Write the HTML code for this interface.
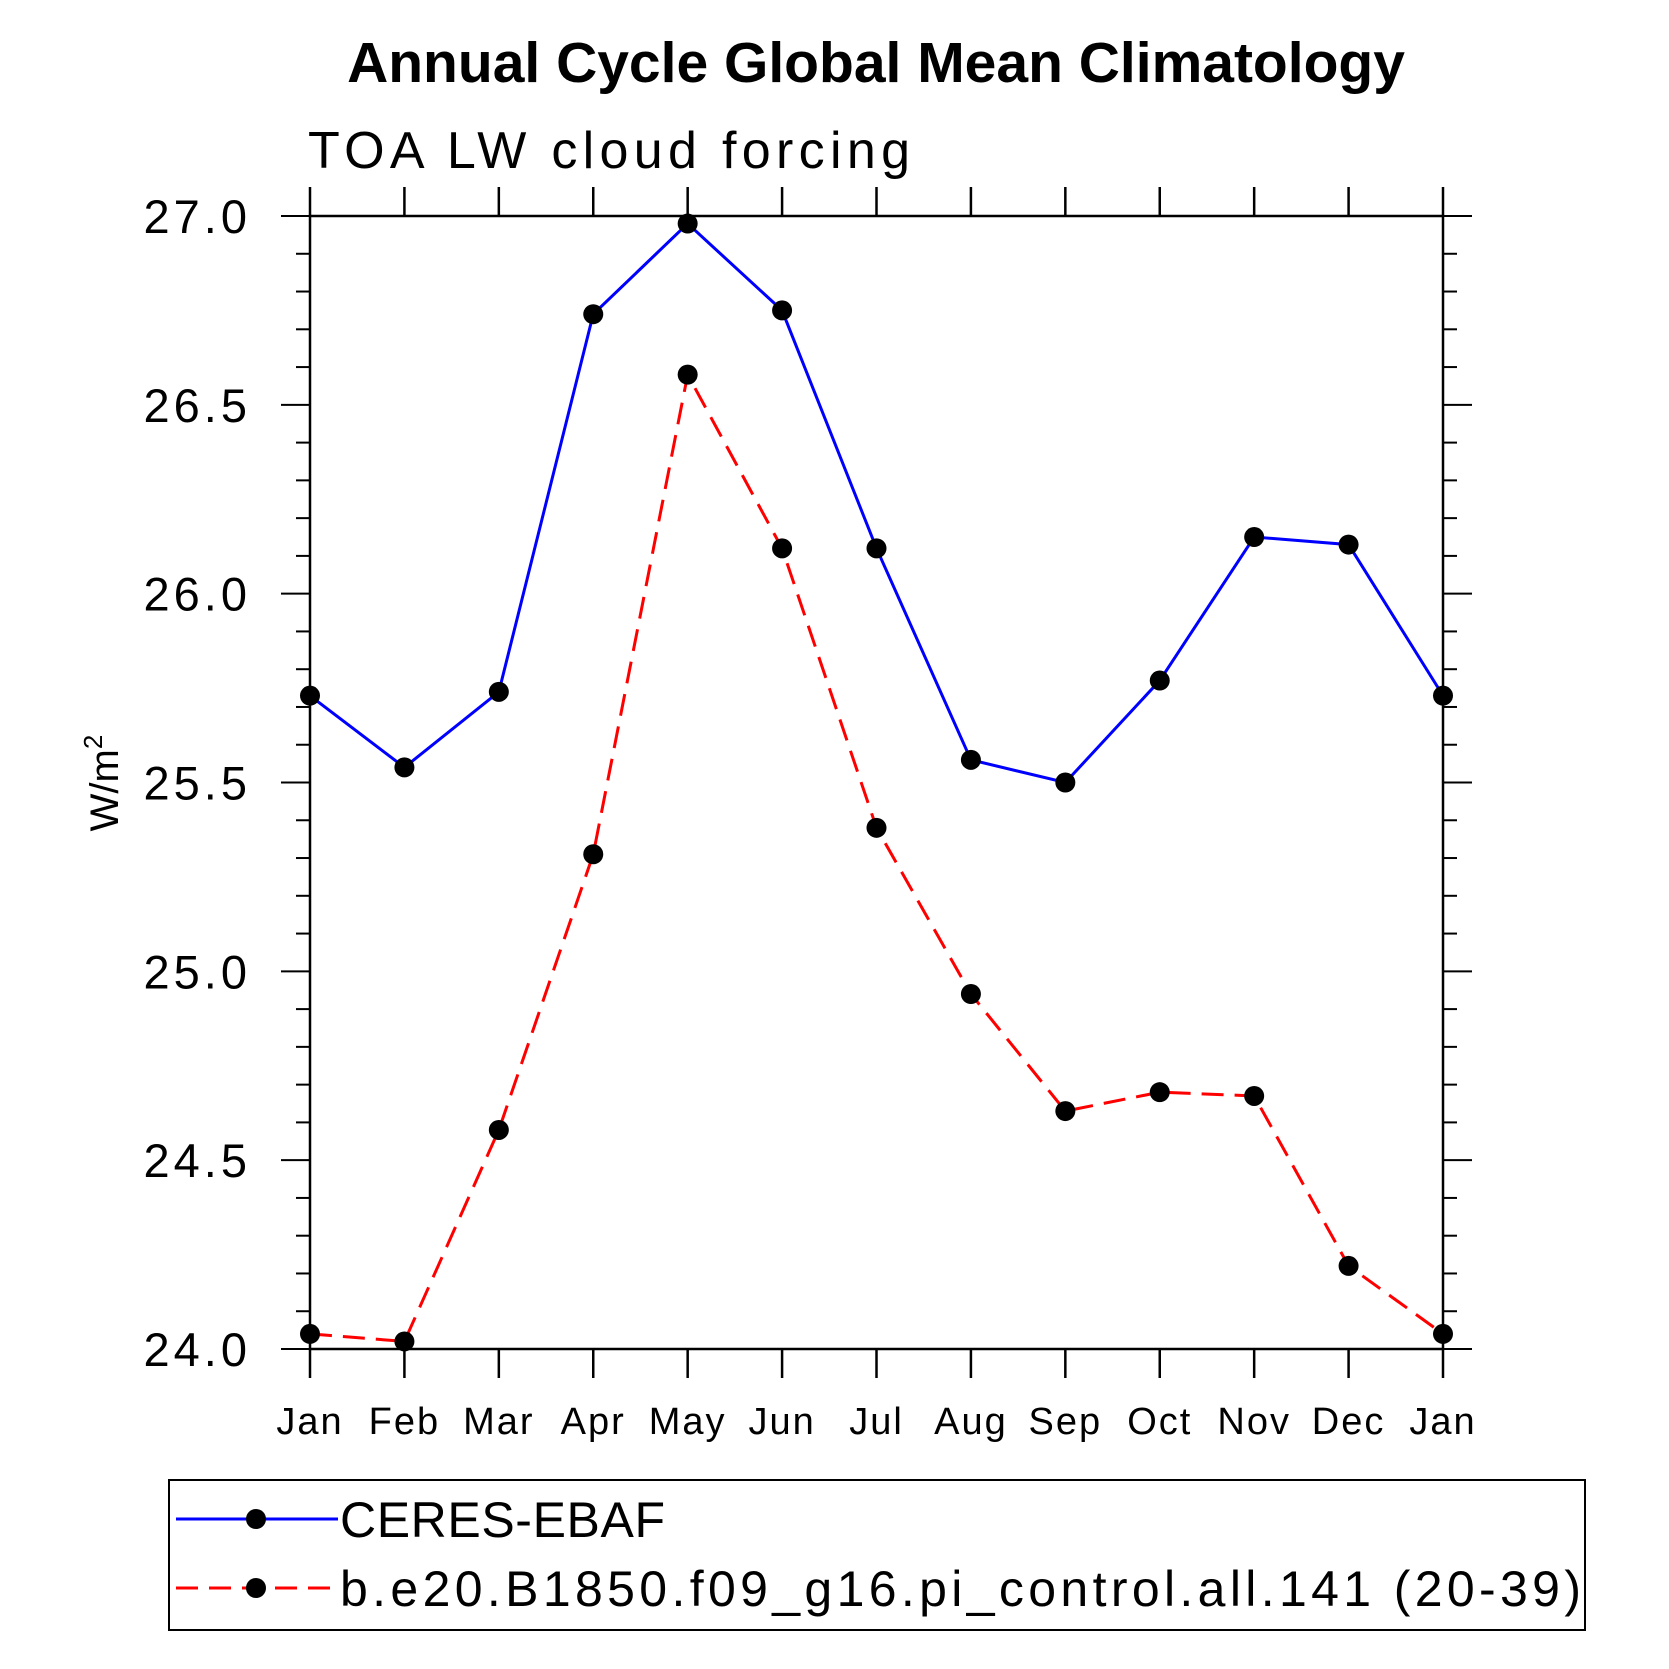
<!DOCTYPE html>
<html><head><meta charset="utf-8"><style>
html,body{margin:0;padding:0;background:#fff;}
svg{display:block;font-family:"Liberation Sans",sans-serif;}
</style></head><body>
<svg id="chart" width="1669" height="1669" viewBox="0 0 1669 1669">
<text x="876" y="82" text-anchor="middle" font-size="57" font-weight="bold">Annual Cycle Global Mean Climatology</text>
<text x="308" y="168" font-size="52" textLength="602" lengthAdjust="spacing">TOA LW cloud forcing</text>
<g id="axes"></g>
<g id="series"></g>
<text transform="translate(118,783) rotate(-90)" text-anchor="middle" font-size="40">W/m<tspan dy="-16" font-size="26">2</tspan></text>
<rect x="169" y="1480" width="1416" height="150" fill="none" stroke="#000" stroke-width="2"/>
<g id="legend"></g>
</svg>
<script>
const months=["Jan","Feb","Mar","Apr","May","Jun","Jul","Aug","Sep","Oct","Nov","Dec","Jan"];
const ceres=[25.73,25.54,25.74,26.74,26.98,26.75,26.12,25.56,25.50,25.77,26.15,26.13,25.73];
const model=[24.04,24.02,24.58,25.31,26.58,26.12,25.38,24.94,24.63,24.68,24.67,24.22,24.04];
const yTicks=[24.0,24.5,25.0,25.5,26.0,26.5,27.0];
const seriesNames=["CERES-EBAF","b.e20.B1850.f09_g16.pi_control.all.141 (20-39)"];
const NS="http://www.w3.org/2000/svg";
const L=310,R=1443,T=216,B=1349,yMin=24,yMax=27;
const xs=i=>L+(R-L)*i/(months.length-1);
const ys=v=>B-(v-yMin)/(yMax-yMin)*(B-T);
function mk(tag,attrs,parent){const e=document.createElementNS(NS,tag);for(const k in attrs)e.setAttribute(k,attrs[k]);parent.appendChild(e);return e;}
const ax=document.getElementById('axes');
const frame=mk('rect',{x:L,y:T,width:R-L,height:B-T,fill:'none',stroke:'#000','stroke-width':2.5},ax);


months.forEach((m,i)=>{
  const x=xs(i);
  mk('line',{x1:x,y1:B,x2:x,y2:B+29,stroke:'#000','stroke-width':2.5},ax);
  mk('line',{x1:x,y1:T,x2:x,y2:T-29,stroke:'#000','stroke-width':2.5},ax);
  const t=mk('text',{x:x,y:1434,'text-anchor':'middle','font-size':38,'letter-spacing':'2'},ax);
  t.textContent=m;
  
  
});
for(let k=0;k<=30;k++){
  const v=yMin+k*0.1,y=ys(v),major=k%5===0,len=major?29:14;
  mk('line',{x1:L,y1:y,x2:L-len,y2:y,stroke:'#000','stroke-width':2},ax);
  mk('line',{x1:R,y1:y,x2:R+len,y2:y,stroke:'#000','stroke-width':2},ax);
}
yTicks.forEach(v=>{
  const t=mk('text',{x:251,y:ys(v)+17,'text-anchor':'end','font-size':47,'letter-spacing':'4'},ax);
  t.textContent=v.toFixed(1);
  
  
});
const sg=document.getElementById('series');
function drawSeries(vals,color,dash,name){
  const g=mk('g',{},sg);
  
  
  const p=mk('polyline',{points:vals.map((v,i)=>xs(i)+','+ys(v)).join(' '),fill:'none',stroke:color,'stroke-width':3},g);
  if(dash)p.setAttribute('stroke-dasharray',dash);
  vals.forEach((v,i)=>{
    const c=mk('circle',{cx:xs(i),cy:ys(v),r:10,fill:'#000'},g);
    
    
  });
}
drawSeries(ceres,'#0000ff',null,'series-ceres-ebaf');
drawSeries(model,'#ff0000','22 11','series-model');
const lg=document.getElementById('legend');
const legLens=[325,1241];
[[ceres,'#0000ff',null,1519],[model,'#ff0000','22 11',1588]].forEach((s,i)=>{
  const g=mk('g',{},lg);
  
  
  const ln=mk('line',{x1:176,y1:s[3],x2:338,y2:s[3],stroke:s[1],'stroke-width':3},g);
  if(s[2])ln.setAttribute('stroke-dasharray',s[2]);
  mk('circle',{cx:256,cy:s[3],r:10,fill:'#000'},g);
  const t=mk('text',{x:340,y:s[3]+18,'font-size':50,textLength:legLens[i],lengthAdjust:'spacing'},g);
  t.textContent=seriesNames[i];
});
</script>
</body></html>
